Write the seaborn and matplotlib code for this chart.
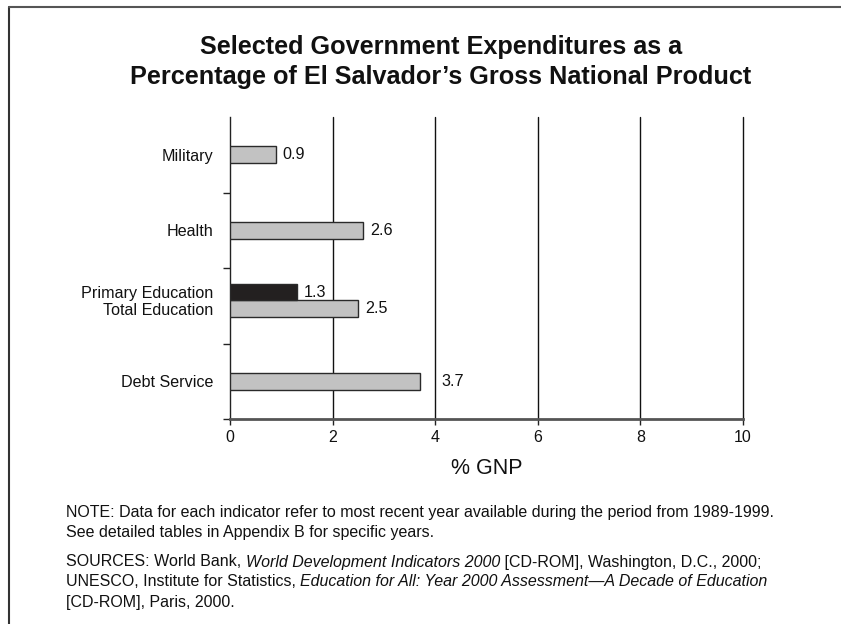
import numpy as np
import matplotlib.pyplot as plt
from matplotlib.lines import Line2D
import pandas as pd
import seaborn as sns

# bars, top to bottom
bar_names = ['Military', 'Health', 'Primary Education', 'Total Education', 'Debt Service']
bar_group = [0, 1, 2, 2, 3]
bar_values = [0.9, 2.6, 1.3, 2.5, 3.7]
bar_kind = ['other', 'other', 'primary', 'other', 'other']

x_ticks = [0, 2, 4, 6, 8, 10]

title = "Selected Government Expenditures as a\nPercentage of El Salvador\u2019s Gross National Product"
note_lines = [
    [("NOTE: Data for each indicator refer to most recent year available during the period from 1989-1999.", 'normal')],
    [("See detailed tables in Appendix B for specific years.", 'normal')],
]
source_lines = [
    [("SOURCES: World Bank, ", 'normal'), ("World Development Indicators 2000", 'italic'),
     (" [CD-ROM], Washington, D.C., 2000;", 'normal')],
    [("UNESCO, Institute for Statistics, ", 'normal'),
     ("Education for All: Year 2000 Assessment\u2014A Decade of Education", 'italic')],
    [("[CD-ROM], Paris, 2000.", 'normal')],
]

sns.set_style('white')
plt.rcParams['font.family'] = ['Liberation Sans', 'DejaVu Sans']
plt.rcParams['text.color'] = '#111111'
plt.rcParams['axes.labelcolor'] = '#111111'
plt.rcParams['xtick.labelcolor'] = '#111111'
plt.rcParams['ytick.labelcolor'] = '#111111'

# y position of each bar: groups centred on i+0.5, the paired group bars sit side by side
bar_h = 0.22
pos = []
for i, g in enumerate(bar_group):
    same = [j for j, gg in enumerate(bar_group) if gg == g]
    if len(same) == 1:
        pos.append(g + 0.5)
    else:
        k = same.index(i)
        pos.append(round(g + 0.43 + (k - (len(same) - 1) / 2) * bar_h, 3))

df = pd.DataFrame({'name': bar_names, 'value': bar_values, 'kind': bar_kind, 'pos': pos})

fig = plt.figure(figsize=(8.41, 6.24), dpi=100)
ax = fig.add_axes([230 / 841, 1 - 419 / 624, 513 / 841, 302 / 624])

sns.barplot(data=df, x='value', y='pos', hue='kind', orient='h', native_scale=True,
            dodge=False, width=1.0, palette={'other': '#c2c2c2', 'primary': '#231f20'},
            edgecolor='#2a2a2a', linewidth=1.0, legend=False, ax=ax, zorder=3)

ax.set_xlim(0, 10)
ax.set_ylim(4, 0)
ax.set_xticks(x_ticks)
ax.set_xticklabels([str(t) for t in x_ticks], fontsize=11.5)
for t in x_ticks[1:]:
    ax.axvline(t, color='#111111', lw=1.0, zorder=1, clip_on=False)

ax.set_yticks([1, 2, 3, 4])
ax.set_yticklabels([])
ax.set_yticks(df['pos'], minor=True)
ax.set_yticklabels(df['name'], minor=True, fontsize=11.6)
ax.tick_params(axis='y', which='minor', length=0, pad=12)
ax.tick_params(axis='y', which='major', length=5, width=1, color='#222222', direction='out', left=True)
ax.tick_params(axis='x', length=4, width=1, color='#222222', direction='out', bottom=True, pad=4)
ax.set_ylabel('')
ax.set_xlabel('% GNP', fontsize=15.5, labelpad=9)

for s in ['top', 'right']:
    ax.spines[s].set_visible(False)
ax.spines['left'].set_color('#222222')
ax.spines['left'].set_linewidth(1.0)
ax.spines['bottom'].set_color('#555555')
ax.spines['bottom'].set_linewidth(2.0)

# value labels, moved past a gridline if they would sit on it
for v, y in zip(bar_values, pos):
    x = v + 0.13
    nxt = np.ceil((v + 1e-9) / 2) * 2
    if x + 0.45 > nxt and nxt - v < 0.5:
        x = nxt + 0.12
    ax.text(x, y, f'{v:.1f}', va='center', ha='left', fontsize=11.6, zorder=4)

fig.text(441 / 841, 1 - 62 / 624, title, ha='center', va='center', fontsize=18.2,
         fontweight='bold', linespacing=1.32)

renderer = fig.canvas.get_renderer()


def draw_line(x0, y, pieces):
    x = x0
    for txt, style in pieces:
        t = fig.text(x, y, txt, ha='left', va='center', fontsize=11.5, style=style)
        bb = t.get_window_extent(renderer=renderer)
        x += bb.width / fig.bbox.width


for i, line in enumerate(note_lines):
    draw_line(66 / 841, 1 - (513 + 20 * i) / 624, line)
for i, line in enumerate(source_lines):
    draw_line(66 / 841, 1 - (562 + 20 * i) / 624, line)

# page frame: left and top edges
fig.add_artist(Line2D([8.5 / 841, 8.5 / 841], [0, 1 - 6.5 / 624], color='#333333', lw=1.5))
fig.add_artist(Line2D([8.5 / 841, 1], [1 - 6.5 / 624, 1 - 6.5 / 624], color='#555555', lw=1.5))

fig.savefig('out.png', dpi=100)
